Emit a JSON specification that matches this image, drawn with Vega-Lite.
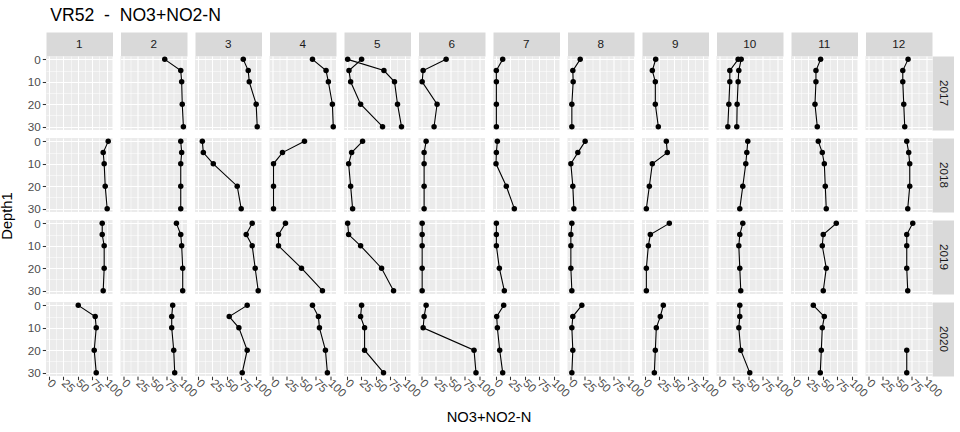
{
  "$schema": "https://vega.github.io/schema/vega-lite/v6.json",
  "padding": {"left": 0, "top": 6, "right": 5, "bottom": 3},
  "background": "white",
  "title": {"text": "VR52\u00a0\u00a0-\u00a0\u00a0NO3+NO2-N", "anchor": "start", "font": "Liberation Sans", "fontSize": 17.6, "fontWeight": "normal", "color": "#000000", "offset": 15, "dx": 50},
  "data": {"values": [
    {"Y":2017,"M":1,"D":null,"V":null},
    {"Y":2017,"M":2,"D":0,"V":71.6},{"Y":2017,"M":2,"D":5,"V":99.4},{"Y":2017,"M":2,"D":10,"V":101},{"Y":2017,"M":2,"D":20,"V":102},{"Y":2017,"M":2,"D":30,"V":104},
    {"Y":2017,"M":3,"D":0,"V":78.6},{"Y":2017,"M":3,"D":5,"V":87.2},{"Y":2017,"M":3,"D":10,"V":89},{"Y":2017,"M":3,"D":20,"V":101},{"Y":2017,"M":3,"D":30,"V":102.8},
    {"Y":2017,"M":4,"D":0,"V":69.4},{"Y":2017,"M":4,"D":5,"V":93},{"Y":2017,"M":4,"D":10,"V":97},{"Y":2017,"M":4,"D":20,"V":104},{"Y":2017,"M":4,"D":30,"V":105.5},
    {"Y":2017,"M":5,"P":"a","D":0,"V":25.3},{"Y":2017,"M":5,"P":"a","D":5,"V":3.4},{"Y":2017,"M":5,"P":"a","D":10,"V":6.3},{"Y":2017,"M":5,"P":"a","D":20,"V":23.6},{"Y":2017,"M":5,"P":"a","D":30,"V":61.7},
    {"Y":2017,"M":5,"P":"b","D":0,"V":1.1},{"Y":2017,"M":5,"P":"b","D":5,"V":64.1},{"Y":2017,"M":5,"P":"b","D":10,"V":82.5},{"Y":2017,"M":5,"P":"b","D":20,"V":87.7},{"Y":2017,"M":5,"P":"b","D":30,"V":94.6},
    {"Y":2017,"M":6,"D":0,"V":42.7},{"Y":2017,"M":6,"D":5,"V":2.8},{"Y":2017,"M":6,"D":10,"V":1.1},{"Y":2017,"M":6,"D":20,"V":27},{"Y":2017,"M":6,"D":30,"V":21.8},
    {"Y":2017,"M":7,"D":0,"V":11.6},{"Y":2017,"M":7,"D":5,"V":0.5},{"Y":2017,"M":7,"D":10,"V":0.6},{"Y":2017,"M":7,"D":20,"V":0.6},{"Y":2017,"M":7,"D":30,"V":0.6},
    {"Y":2017,"M":8,"D":0,"V":16.8},{"Y":2017,"M":8,"D":5,"V":4},{"Y":2017,"M":8,"D":10,"V":4.6},{"Y":2017,"M":8,"D":20,"V":2.3},{"Y":2017,"M":8,"D":30,"V":2.3},
    {"Y":2017,"M":9,"D":0,"V":18.5},{"Y":2017,"M":9,"D":5,"V":12.7},{"Y":2017,"M":9,"D":10,"V":17.9},{"Y":2017,"M":9,"D":20,"V":17.9},{"Y":2017,"M":9,"D":30,"V":23.1},
    {"Y":2017,"M":10,"P":"a","D":0,"V":32.3},{"Y":2017,"M":10,"P":"a","D":5,"V":17.9},{"Y":2017,"M":10,"P":"a","D":10,"V":17.9},{"Y":2017,"M":10,"P":"a","D":20,"V":16.2},{"Y":2017,"M":10,"P":"a","D":30,"V":14.4},
    {"Y":2017,"M":10,"P":"b","D":0,"V":37.6},{"Y":2017,"M":10,"P":"b","D":5,"V":33.5},{"Y":2017,"M":10,"P":"b","D":10,"V":32.3},{"Y":2017,"M":10,"P":"b","D":20,"V":30.6},{"Y":2017,"M":10,"P":"b","D":30,"V":30},
    {"Y":2017,"M":11,"D":0,"V":46.2},{"Y":2017,"M":11,"D":5,"V":38.1},{"Y":2017,"M":11,"D":10,"V":38.1},{"Y":2017,"M":11,"D":20,"V":36.4},{"Y":2017,"M":11,"D":30,"V":40.4},
    {"Y":2017,"M":12,"D":0,"V":68.7},{"Y":2017,"M":12,"D":5,"V":59.5},{"Y":2017,"M":12,"D":10,"V":59.5},{"Y":2017,"M":12,"D":20,"V":61.2},{"Y":2017,"M":12,"D":30,"V":62.9},

    {"Y":2018,"M":1,"D":0,"V":102.8},{"Y":2018,"M":1,"D":5,"V":94.1},{"Y":2018,"M":1,"D":10,"V":95.8},{"Y":2018,"M":1,"D":20,"V":97.6},{"Y":2018,"M":1,"D":30,"V":101},
    {"Y":2018,"M":2,"D":0,"V":99.4},{"Y":2018,"M":2,"D":5,"V":101},{"Y":2018,"M":2,"D":10,"V":99.4},{"Y":2018,"M":2,"D":20,"V":99.4},{"Y":2018,"M":2,"D":30,"V":99.4},
    {"Y":2018,"M":3,"D":0,"V":7.5},{"Y":2018,"M":3,"D":5,"V":9.2},{"Y":2018,"M":3,"D":10,"V":26.5},{"Y":2018,"M":3,"D":20,"V":68.1},{"Y":2018,"M":3,"D":30,"V":75},
    {"Y":2018,"M":4,"D":0,"V":55.5},{"Y":2018,"M":4,"D":5,"V":17.3},{"Y":2018,"M":4,"D":10,"V":1.7},{"Y":2018,"M":4,"D":20,"V":1.7},{"Y":2018,"M":4,"D":30,"V":1.7},
    {"Y":2018,"M":5,"D":0,"V":27},{"Y":2018,"M":5,"D":5,"V":8},{"Y":2018,"M":5,"D":10,"V":2.8},{"Y":2018,"M":5,"D":20,"V":6.3},{"Y":2018,"M":5,"D":30,"V":9.7},
    {"Y":2018,"M":6,"D":0,"V":8},{"Y":2018,"M":6,"D":5,"V":4.5},{"Y":2018,"M":6,"D":10,"V":4.5},{"Y":2018,"M":6,"D":20,"V":4.5},{"Y":2018,"M":6,"D":30,"V":4.5},
    {"Y":2018,"M":7,"D":0,"V":2.3},{"Y":2018,"M":7,"D":5,"V":0.6},{"Y":2018,"M":7,"D":10,"V":0},{"Y":2018,"M":7,"D":20,"V":17.9},{"Y":2018,"M":7,"D":30,"V":31.8},
    {"Y":2018,"M":8,"D":0,"V":25.4},{"Y":2018,"M":8,"D":5,"V":12.7},{"Y":2018,"M":8,"D":10,"V":0.6},{"Y":2018,"M":8,"D":20,"V":4},{"Y":2018,"M":8,"D":30,"V":5.8},
    {"Y":2018,"M":9,"D":0,"V":37},{"Y":2018,"M":9,"D":5,"V":38.7},{"Y":2018,"M":9,"D":10,"V":12.7},{"Y":2018,"M":9,"D":20,"V":7.5},{"Y":2018,"M":9,"D":30,"V":2.3},
    {"Y":2018,"M":10,"D":0,"V":49.1},{"Y":2018,"M":10,"D":5,"V":47.4},{"Y":2018,"M":10,"D":10,"V":45.6},{"Y":2018,"M":10,"D":20,"V":40.4},{"Y":2018,"M":10,"D":30,"V":35.2},
    {"Y":2018,"M":11,"D":0,"V":42.2},{"Y":2018,"M":11,"D":5,"V":49.1},{"Y":2018,"M":11,"D":10,"V":52.6},{"Y":2018,"M":11,"D":20,"V":54.3},{"Y":2018,"M":11,"D":30,"V":56},
    {"Y":2018,"M":12,"D":0,"V":66.4},{"Y":2018,"M":12,"D":5,"V":69.8},{"Y":2018,"M":12,"D":10,"V":71.6},{"Y":2018,"M":12,"D":20,"V":71.6},{"Y":2018,"M":12,"D":30,"V":68.1},

    {"Y":2019,"M":1,"D":0,"V":92.4},{"Y":2019,"M":1,"D":5,"V":92.4},{"Y":2019,"M":1,"D":10,"V":95.8},{"Y":2019,"M":1,"D":20,"V":95.8},{"Y":2019,"M":1,"D":30,"V":94.1},
    {"Y":2019,"M":2,"D":0,"V":91.9},{"Y":2019,"M":2,"D":5,"V":99.4},{"Y":2019,"M":2,"D":10,"V":101},{"Y":2019,"M":2,"D":20,"V":102.8},{"Y":2019,"M":2,"D":30,"V":102.8},
    {"Y":2019,"M":3,"D":0,"V":94.1},{"Y":2019,"M":3,"D":5,"V":83.7},{"Y":2019,"M":3,"D":10,"V":94.1},{"Y":2019,"M":3,"D":20,"V":99.3},{"Y":2019,"M":3,"D":30,"V":104.5},
    {"Y":2019,"M":4,"D":0,"V":22.5},{"Y":2019,"M":4,"D":5,"V":10.4},{"Y":2019,"M":4,"D":10,"V":10.4},{"Y":2019,"M":4,"D":20,"V":50.3},{"Y":2019,"M":4,"D":30,"V":86.7},
    {"Y":2019,"M":5,"D":0,"V":1.1},{"Y":2019,"M":5,"D":5,"V":2.8},{"Y":2019,"M":5,"D":10,"V":23.6},{"Y":2019,"M":5,"D":20,"V":60},{"Y":2019,"M":5,"D":30,"V":80.8},
    {"Y":2019,"M":6,"D":0,"V":1.1},{"Y":2019,"M":6,"D":5,"V":1.1},{"Y":2019,"M":6,"D":10,"V":1.1},{"Y":2019,"M":6,"D":20,"V":1.1},{"Y":2019,"M":6,"D":30,"V":1.1},
    {"Y":2019,"M":7,"D":0,"V":0.6},{"Y":2019,"M":7,"D":5,"V":0.6},{"Y":2019,"M":7,"D":10,"V":0.6},{"Y":2019,"M":7,"D":20,"V":5.8},{"Y":2019,"M":7,"D":30,"V":14.4},
    {"Y":2019,"M":8,"D":0,"V":2.3},{"Y":2019,"M":8,"D":5,"V":0.6},{"Y":2019,"M":8,"D":10,"V":0.6},{"Y":2019,"M":8,"D":20,"V":0.6},{"Y":2019,"M":8,"D":30,"V":2.3},
    {"Y":2019,"M":9,"D":0,"V":42.2},{"Y":2019,"M":9,"D":5,"V":9.2},{"Y":2019,"M":9,"D":10,"V":5.8},{"Y":2019,"M":9,"D":20,"V":2.3},{"Y":2019,"M":9,"D":30,"V":2.3},
    {"Y":2019,"M":10,"D":0,"V":40.4},{"Y":2019,"M":10,"D":5,"V":35.2},{"Y":2019,"M":10,"D":10,"V":33.5},{"Y":2019,"M":10,"D":20,"V":35.2},{"Y":2019,"M":10,"D":30,"V":36.9},
    {"Y":2019,"M":11,"D":0,"V":73.4},{"Y":2019,"M":11,"D":5,"V":50.8},{"Y":2019,"M":11,"D":10,"V":49.1},{"Y":2019,"M":11,"D":20,"V":56},{"Y":2019,"M":11,"D":30,"V":50.8},
    {"Y":2019,"M":12,"D":0,"V":76.8},{"Y":2019,"M":12,"D":5,"V":66.4},{"Y":2019,"M":12,"D":10,"V":66.4},{"Y":2019,"M":12,"D":20,"V":66.4},{"Y":2019,"M":12,"D":30,"V":68.1},

    {"Y":2020,"M":1,"D":0,"V":50.8},{"Y":2020,"M":1,"D":5,"V":80.2},{"Y":2020,"M":1,"D":10,"V":82},{"Y":2020,"M":1,"D":20,"V":78.5},{"Y":2020,"M":1,"D":30,"V":82},
    {"Y":2020,"M":2,"D":0,"V":85.4},{"Y":2020,"M":2,"D":5,"V":83.7},{"Y":2020,"M":2,"D":10,"V":83.7},{"Y":2020,"M":2,"D":20,"V":87.2},{"Y":2020,"M":2,"D":30,"V":88.9},
    {"Y":2020,"M":3,"D":0,"V":85.4},{"Y":2020,"M":3,"D":5,"V":54.2},{"Y":2020,"M":3,"D":10,"V":71},{"Y":2020,"M":3,"D":20,"V":85.4},{"Y":2020,"M":3,"D":30,"V":76.8},
    {"Y":2020,"M":4,"D":0,"V":69.4},{"Y":2020,"M":4,"D":5,"V":79.7},{"Y":2020,"M":4,"D":10,"V":81.5},{"Y":2020,"M":4,"D":20,"V":91.9},{"Y":2020,"M":4,"D":30,"V":95.3},
    {"Y":2020,"M":5,"D":0,"V":25.3},{"Y":2020,"M":5,"D":5,"V":23.6},{"Y":2020,"M":5,"D":10,"V":30.5},{"Y":2020,"M":5,"D":20,"V":30.5},{"Y":2020,"M":5,"D":30,"V":63.4},
    {"Y":2020,"M":6,"D":0,"V":8},{"Y":2020,"M":6,"D":5,"V":4.5},{"Y":2020,"M":6,"D":10,"V":2.8},{"Y":2020,"M":6,"D":20,"V":91.2},{"Y":2020,"M":6,"D":30,"V":94.6},
    {"Y":2020,"M":7,"D":0,"V":13.3},{"Y":2020,"M":7,"D":5,"V":1.2},{"Y":2020,"M":7,"D":10,"V":2.3},{"Y":2020,"M":7,"D":20,"V":6.4},{"Y":2020,"M":7,"D":30,"V":11.6},
    {"Y":2020,"M":8,"D":0,"V":19.6},{"Y":2020,"M":8,"D":5,"V":4},{"Y":2020,"M":8,"D":10,"V":2.3},{"Y":2020,"M":8,"D":20,"V":4},{"Y":2020,"M":8,"D":30,"V":2.3},
    {"Y":2020,"M":9,"D":0,"V":31.8},{"Y":2020,"M":9,"D":5,"V":26.5},{"Y":2020,"M":9,"D":10,"V":19.6},{"Y":2020,"M":9,"D":20,"V":17.9},{"Y":2020,"M":9,"D":30,"V":16.2},
    {"Y":2020,"M":10,"D":0,"V":35.2},{"Y":2020,"M":10,"D":5,"V":35.2},{"Y":2020,"M":10,"D":10,"V":33.5},{"Y":2020,"M":10,"D":20,"V":36.9},{"Y":2020,"M":10,"D":30,"V":52.5},
    {"Y":2020,"M":11,"D":0,"V":33.5},{"Y":2020,"M":11,"D":5,"V":52.6},{"Y":2020,"M":11,"D":10,"V":49.1},{"Y":2020,"M":11,"D":20,"V":47.4},{"Y":2020,"M":11,"D":30,"V":45.6},
    {"Y":2020,"M":12,"D":20,"V":66.4},{"Y":2020,"M":12,"D":30,"V":66.4}
  ]},
  "facet": {
    "row": {"field": "Y", "type": "ordinal", "header": {"labelOrient": "right", "labelAngle": 90, "labelAlign": "center", "labelBaseline": "middle", "labelPadding": -12, "labelFont": "Liberation Sans", "labelFontSize": 11.7, "labelColor": "#1A1A1A", "title": "Depth1", "titleOrient": "left", "titleFont": "Liberation Sans", "titleFontSize": 14.7, "titleFontWeight": "normal", "titleColor": "#000000", "titlePadding": 2}},
    "column": {"field": "M", "type": "ordinal", "header": {"labelOrient": "top", "labelAngle": 0, "labelAlign": "center", "labelBaseline": "middle", "labelPadding": -12, "labelFont": "Liberation Sans", "labelFontSize": 11.7, "labelColor": "#1A1A1A", "title": "NO3+NO2-N", "titleOrient": "bottom", "titleFont": "Liberation Sans", "titleFontSize": 14.7, "titleFontWeight": "normal", "titleColor": "#000000", "titlePadding": 0}}
  },
  "spacing": {"row": 8, "column": 7.5},
  "align": "each",
  "spec": {
    "width": 66.5,
    "height": 74,
    "resolve": {"axis": {"x": "independent", "y": "independent"}},
    "layer": [
      {
        "transform": [{"filter": "isValid(datum.V)"}],
        "mark": {"type": "line", "color": "#000000", "strokeWidth": 1.1},
        "encoding": {
          "x": {"field": "V", "type": "quantitative",
            "scale": {"domain": [-5.25, 110.25], "nice": false, "zero": false},
            "axis": {"orient": "bottom", "values": [0, 12.5, 25, 37.5, 50, 62.5, 75, 87.5, 100], "title": null, "domain": false, "grid": true,
              "labelExpr": "datum.value % 25 == 0 ? '' + datum.value : ''",
              "gridColor": "#FFFFFF",
              "gridWidth": {"condition": {"test": "datum.value % 25 == 0", "value": 1.07}, "value": 0.53},
              "tickOpacity": {"condition": {"test": "datum.value % 25 == 0", "value": 1}, "value": 0},
              "tickColor": "#333333", "tickSize": 3.7, "tickWidth": 1.07,
              "labelAngle": 45, "labelAlign": "left", "labelBaseline": "middle", "labelPadding": 1,
              "labelColor": "#4D4D4D", "labelFont": "Liberation Sans", "labelFontSize": 11.7,
              "labelOverlap": false, "labelBound": false, "labelFlush": false}},
          "y": {"field": "D", "type": "quantitative",
            "scale": {"domain": [-1.5, 31.5], "reverse": true, "nice": false, "zero": false},
            "axis": {"orient": "left", "values": [0, 5, 10, 15, 20, 25, 30], "title": null, "domain": false, "grid": true,
              "labelExpr": "datum.value % 10 == 0 ? '' + datum.value : ''",
              "gridColor": "#FFFFFF",
              "gridWidth": {"condition": {"test": "datum.value % 10 == 0", "value": 1.07}, "value": 0.53},
              "tickOpacity": {"condition": {"test": "datum.value % 10 == 0", "value": 1}, "value": 0},
              "tickColor": "#333333", "tickSize": 3.7, "tickWidth": 1.07, "labelPadding": 2,
              "labelColor": "#4D4D4D", "labelFont": "Liberation Sans", "labelFontSize": 11.7,
              "labelOverlap": false, "labelBound": false, "labelFlush": false}},
          "detail": {"field": "P", "type": "nominal"},
          "order": {"field": "D", "type": "quantitative"}
        }
      },
      {
        "transform": [{"filter": "isValid(datum.V)"}],
        "mark": {"type": "point", "filled": true, "color": "#000000", "opacity": 1, "size": 30},
        "encoding": {
          "x": {"field": "V", "type": "quantitative",
            "axis": {"orient": "top", "title": null, "labels": false, "ticks": false, "grid": false,
              "domain": true, "domainColor": "#D9D9D9", "domainWidth": 24, "domainCap": "butt", "offset": 12}},
          "y": {"field": "D", "type": "quantitative",
            "axis": {"orient": "right", "title": null, "labels": false, "ticks": false, "grid": false,
              "domain": true, "domainColor": "#D9D9D9", "domainWidth": 24, "domainCap": "butt", "offset": 12}}
        }
      }
    ]
  },
  "config": {
    "view": {"fill": "#EBEBEB", "stroke": null},
    "font": "Liberation Sans"
  }
}
